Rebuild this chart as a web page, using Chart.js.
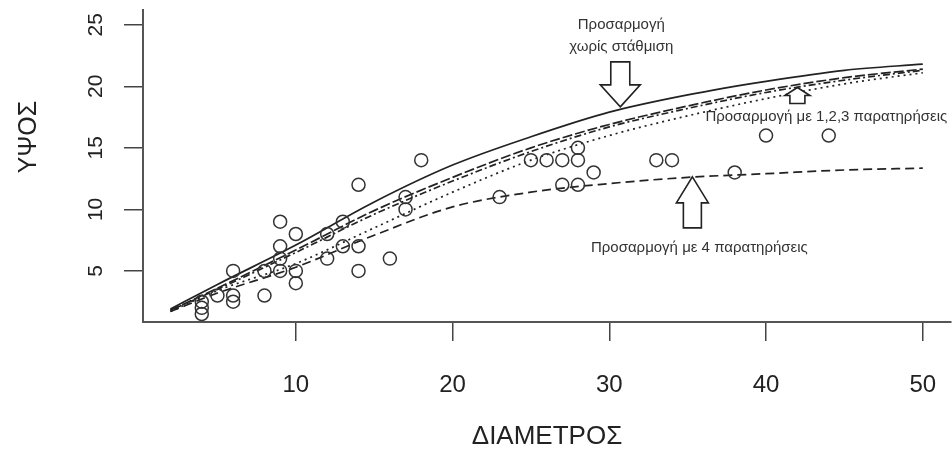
<!DOCTYPE html>
<html lang="el">
<head>
    <meta charset="UTF-8">
    <title>ΥΨΟΣ - ΔΙΑΜΕΤΡΟΣ</title>
    <script src="https://cdn.jsdelivr.net/npm/chart.js"></script>
    <style>
        body { margin: 0; background: #fff; }
    </style>
</head>
<body>
    <canvas id="grafico" width="952" height="452"></canvas>

    <script>
        // Παρατηρήσεις (διάμετρος, ύψος)
        const diametros = [4, 4, 4, 5, 6, 6, 6, 8, 8, 9, 9, 9, 9, 10, 10, 10, 12, 12, 13, 13, 14, 14, 14, 16, 17, 17, 18,
                           23, 25, 26, 27, 27, 28, 28, 28, 29, 33, 34, 38, 40, 44];
        const ypsos = [2.5, 2, 1.5, 3, 5, 3, 2.5, 3, 5, 9, 7, 6, 5, 8, 5, 4, 8, 6, 9, 7, 12, 7, 5, 6, 11, 10, 14,
                       11, 14, 14, 14, 12, 15, 14, 12, 13, 14, 14, 13, 16, 16];

        // Καμπύλες προσαρμογής
        const kampylesX = [2, 5, 10, 15, 20, 25, 30, 35, 40, 45, 50];
        const xorisStathmisi = [1.9, 3.9, 7.1, 10.6, 13.6, 15.9, 17.9, 19.3, 20.4, 21.3, 21.8];
        const me1 = [1.8, 3.6, 6.7, 9.9, 12.6, 15.0, 16.9, 18.4, 19.7, 20.7, 21.4];
        const me2 = [1.8, 3.5, 6.5, 9.6, 12.3, 14.7, 16.7, 18.2, 19.5, 20.5, 21.3];
        const me3 = [1.7, 3.4, 5.6, 8.5, 11.4, 14.0, 16.0, 17.6, 19.0, 20.2, 21.1];
        const me4 = [1.7, 3.2, 5.3, 7.9, 10.2, 11.4, 12.1, 12.6, 12.9, 13.2, 13.35];

        const ticksX = [10, 20, 30, 40, 50];
        const ticksY = [5, 10, 15, 20, 25];

        const pontos = (xs, ys) => xs.map((x, i) => ({ x: x, y: ys[i] }));

        function curva(ys, dash) {
            return {
                type: 'line',
                data: pontos(kampylesX, ys),
                borderColor: '#222',
                borderWidth: 1.7,
                borderDash: dash,
                pointRadius: 0,
                fill: false,
                cubicInterpolationMode: 'monotone'
            };
        }

        // σχόλια με βέλη
        const sxolia = [
            { x: 30.7, y: 18.33, dir: 'down', head: 22, half: 20, shaft: 9.5, len: 23,
              text: ['Προσαρμογή', 'χωρίς στάθμιση'], dx: 1, dy: [-82, -60], align: 'center' },
            { x: 42.0, y: 19.9, dir: 'up', head: 8, half: 12.5, shaft: 7.5, len: 8,
              text: ['Προσαρμογή με 1,2,3 παρατηρήσεις'], dx: -92, dy: [29], align: 'left' },
            { x: 35.3, y: 12.64, dir: 'up', head: 26, half: 16, shaft: 9, len: 25,
              text: ['Προσαρμογή με 4 παρατηρήσεις'], dx: 7, dy: [71], align: 'center' }
        ];

        const pluginSxolia = {
            id: 'sxolia',
            afterDatasetsDraw(chart) {
                const ctx = chart.ctx;
                const sx = chart.scales.x, sy = chart.scales.y;
                ctx.save();
                ctx.strokeStyle = '#222';
                ctx.lineWidth = 1.6;
                ctx.fillStyle = '#fff';
                sxolia.forEach(s => {
                    const tx = sx.getPixelForValue(s.x);
                    const ty = sy.getPixelForValue(s.y);
                    const k = s.dir === 'down' ? -1 : 1;
                    const b = ty + k * s.head;
                    const e = b + k * s.len;
                    ctx.beginPath();
                    ctx.moveTo(tx, ty);
                    ctx.lineTo(tx + s.half, b);
                    ctx.lineTo(tx + s.shaft, b);
                    ctx.lineTo(tx + s.shaft, e);
                    ctx.lineTo(tx - s.shaft, e);
                    ctx.lineTo(tx - s.shaft, b);
                    ctx.lineTo(tx - s.half, b);
                    ctx.closePath();
                    ctx.fill();
                    ctx.stroke();
                    ctx.fillStyle = '#333';
                    ctx.font = '15px "Liberation Sans", sans-serif';
                    ctx.textAlign = s.align;
                    ctx.textBaseline = 'middle';
                    s.text.forEach((t, i) => ctx.fillText(t, tx + s.dx, ty + s.dy[i]));
                    ctx.fillStyle = '#fff';
                });
                // τίτλος άξονα y
                ctx.fillStyle = '#222';
                ctx.font = '25px "Liberation Sans", sans-serif';
                ctx.translate(29, chart.chartArea.top + 127);
                ctx.rotate(-Math.PI / 2);
                ctx.textAlign = 'center';
                ctx.textBaseline = 'middle';
                ctx.fillText('ΥΨΟΣ', 0, 0);
                ctx.restore();
            }
        };

        window.onload = function () {
            const ctx = document.getElementById('grafico').getContext('2d');
            new Chart(ctx, {
                type: 'scatter',
                data: {
                    datasets: [
                        {
                            data: pontos(diametros, ypsos),
                            pointStyle: 'circle',
                            pointRadius: 6.5,
                            pointBorderWidth: 1.5,
                            borderColor: '#333',
                            backgroundColor: 'rgba(0,0,0,0)'
                        },
                        curva(xorisStathmisi, []),
                        curva(me1, [10, 3]),
                        curva(me2, [2, 3, 7, 3]),
                        curva(me3, [2, 4]),
                        curva(me4, [9, 5])
                    ]
                },
                options: {
                    responsive: false,
                    animation: false,
                    layout: { autoPadding: false, padding: { top: 10, right: 1, left: 0, bottom: 0 } },
                    plugins: {
                        legend: { display: false },
                        tooltip: { enabled: false }
                    },
                    scales: {
                        x: {
                            type: 'linear',
                            min: 0.25,
                            max: 51.8,
                            afterBuildTicks: s => { s.ticks = ticksX.map(v => ({ value: v })); },
                            afterFit: s => { s.height = 130; s.paddingLeft = 0; s.paddingRight = 0; },
                            grid: { drawOnChartArea: false, drawTicks: true, tickLength: 19, color: '#444', lineWidth: 1.5 },
                            border: { display: true, color: '#555', width: 2 },
                            ticks: {
                                autoSkip: false,
                                maxRotation: 0,
                                padding: 30,
                                color: '#222',
                                font: { size: 24, family: '"Liberation Sans", sans-serif' }
                            },
                            title: {
                                display: true,
                                text: 'ΔΙΑΜΕΤΡΟΣ',
                                color: '#222',
                                padding: { top: 0, bottom: 0 },
                                font: { size: 26, family: '"Liberation Sans", sans-serif' }
                            }
                        },
                        y: {
                            type: 'linear',
                            min: 0.85,
                            max: 26.2,
                            afterBuildTicks: s => { s.ticks = ticksY.map(v => ({ value: v })); },
                            afterFit: s => { s.width = 143; s.paddingTop = 0; s.paddingBottom = 0; },
                            grid: { drawOnChartArea: false, drawTicks: true, tickLength: 19, color: '#444', lineWidth: 1.5 },
                            border: { display: true, color: '#555', width: 2 },
                            ticks: {
                                autoSkip: false,
                                minRotation: 90,
                                maxRotation: 90,
                                crossAlign: 'center',
                                padding: 16,
                                color: '#222',
                                font: { size: 21, family: '"Liberation Sans", sans-serif' }
                            }
                        }
                    }
                },
                plugins: [pluginSxolia]
            });
        };
    </script>
</body>
</html>
